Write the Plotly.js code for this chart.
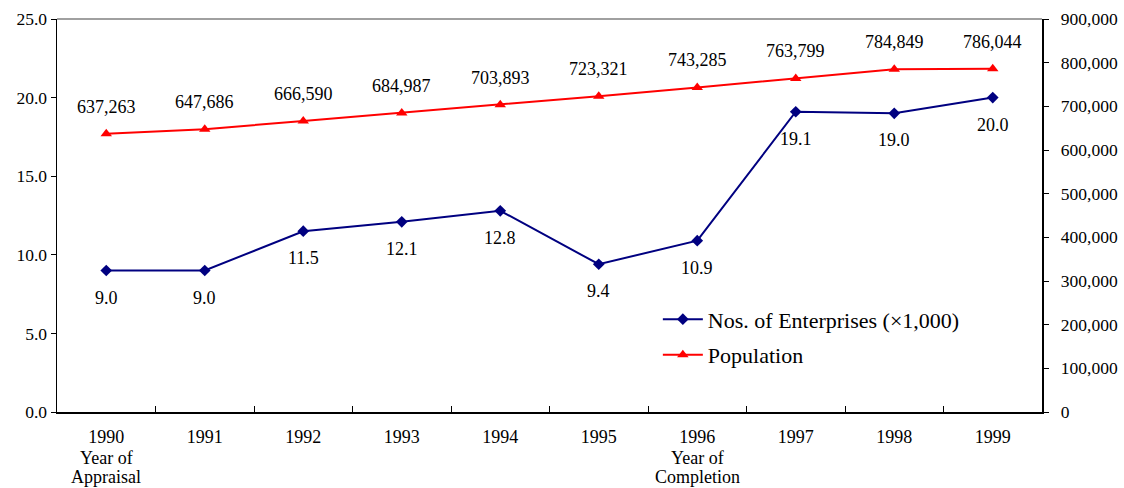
<!DOCTYPE html>
<html>
<head>
<meta charset="utf-8">
<script src="https://cdn.plot.ly/plotly-3.0.1.min.js"></script>
<style>
  html, body { margin: 0; padding: 0; background: #fff; }
  #chart { width: 1124px; height: 488px; }
</style>
</head>
<body>
<div id="chart"></div>
<script>
// Yearly series
const years = ['1990', '1991', '1992', '1993', '1994', '1995', '1996', '1997', '1998', '1999'];
const enterprises = [9.0, 9.0, 11.5, 12.1, 12.8, 9.4, 10.9, 19.1, 19.0, 20.0];
const population = [637263, 647686, 666590, 684987, 703893, 723321, 743285, 763799, 784849, 786044];

// Milestone notes printed under their year labels
const noteYears = ['1990', '1996'];
const noteLines = [['Year of', 'Appraisal'], ['Year of', 'Completion']];

const FONT = 'Liberation Serif';

function withCommas(n) {
  return String(n).replace(/\B(?=(\d{3})+(?!\d))/g, ',');
}

const traces = [
  {
    x: years, y: enterprises, name: 'Nos. of Enterprises (\u00d71,000)',
    type: 'scatter', mode: 'lines+markers', yaxis: 'y', legendgroup: 'a',
    line: { color: '#000080', width: 2 },
    marker: { symbol: 'diamond', size: 9, color: '#000080' }
  },
  {
    x: years, y: population, name: 'Population',
    type: 'scatter', mode: 'lines+markers', yaxis: 'y2', legendgroup: 'b',
    line: { color: '#ff0000', width: 2 },
    marker: { symbol: 'triangle-up', size: 10, color: '#ff0000' }
  }
];

// Value labels: enterprises below their points, population above
const annotations = [];
for (let i = 0; i < years.length; i++) {
  annotations.push({
    x: i, y: enterprises[i], xref: 'x', yref: 'y',
    text: enterprises[i].toFixed(1), showarrow: false, yshift: -27,
    font: { family: FONT, size: 18, color: '#000' }
  });
  annotations.push({
    x: i, y: population[i], xref: 'x', yref: 'y2',
    text: withCommas(population[i]), showarrow: false, yshift: 27,
    font: { family: FONT, size: 18, color: '#000' }
  });
}

// Note lines under the year tick labels, with tight line spacing
noteYears.forEach((yr, k) => {
  noteLines[k].forEach((line, j) => {
    annotations.push({
      x: years.indexOf(yr), y: 0, xref: 'x', yref: 'paper', yanchor: 'middle',
      text: line, showarrow: false, yshift: -46 - 19 * j,
      font: { family: FONT, size: 18, color: '#000' }
    });
  });
});

const layout = {
  width: 1124, height: 488,
  margin: { l: 57, r: 82, t: 19, b: 76 },
  paper_bgcolor: '#fff', plot_bgcolor: '#fff',
  font: { family: FONT, size: 18, color: '#000' },
  showlegend: true,
  legend: {
    x: 0.61, y: 0.19, xanchor: 'left', yanchor: 'middle',
    bgcolor: 'rgba(0,0,0,0)', font: { family: FONT, size: 22, color: '#000' },
    traceorder: 'grouped', tracegroupgap: 4, itemwidth: 40
  },
  xaxis: {
    type: 'category', range: [-0.5, 9.5],
    tickson: 'boundaries', ticks: 'inside', ticklen: 6, tickcolor: '#000',
    showline: true, linecolor: '#000', linewidth: 1.5,
    showgrid: false, zeroline: false,
    ticklabelstandoff: 8,
    tickfont: { family: FONT, size: 18 }
  },
  yaxis: {
    range: [0, 25], dtick: 5, tickformat: '.1f',
    ticks: 'outside', ticklen: 5, tickcolor: '#000',
    showline: true, linecolor: '#000', linewidth: 1.5,
    showgrid: false, zeroline: false,
    tickfont: { family: FONT, size: 17.5 }
  },
  yaxis2: {
    overlaying: 'y', side: 'right',
    range: [0, 900000], dtick: 100000, tickformat: ',d',
    tickprefix: '\u2002',
    ticks: 'outside', ticklen: 5, tickcolor: '#000',
    showline: true, linecolor: '#000', linewidth: 1.5,
    showgrid: false, zeroline: false,
    tickfont: { family: FONT, size: 17.5 }
  },
  shapes: [
    { type: 'line', xref: 'paper', yref: 'paper', x0: 0, x1: 1, y0: 1, y1: 1,
      line: { color: '#808080', width: 1.5 } }
  ],
  annotations: annotations
};

Plotly.newPlot('chart', traces, layout, { displayModeBar: false, staticPlot: true });
</script>
</body>
</html>
